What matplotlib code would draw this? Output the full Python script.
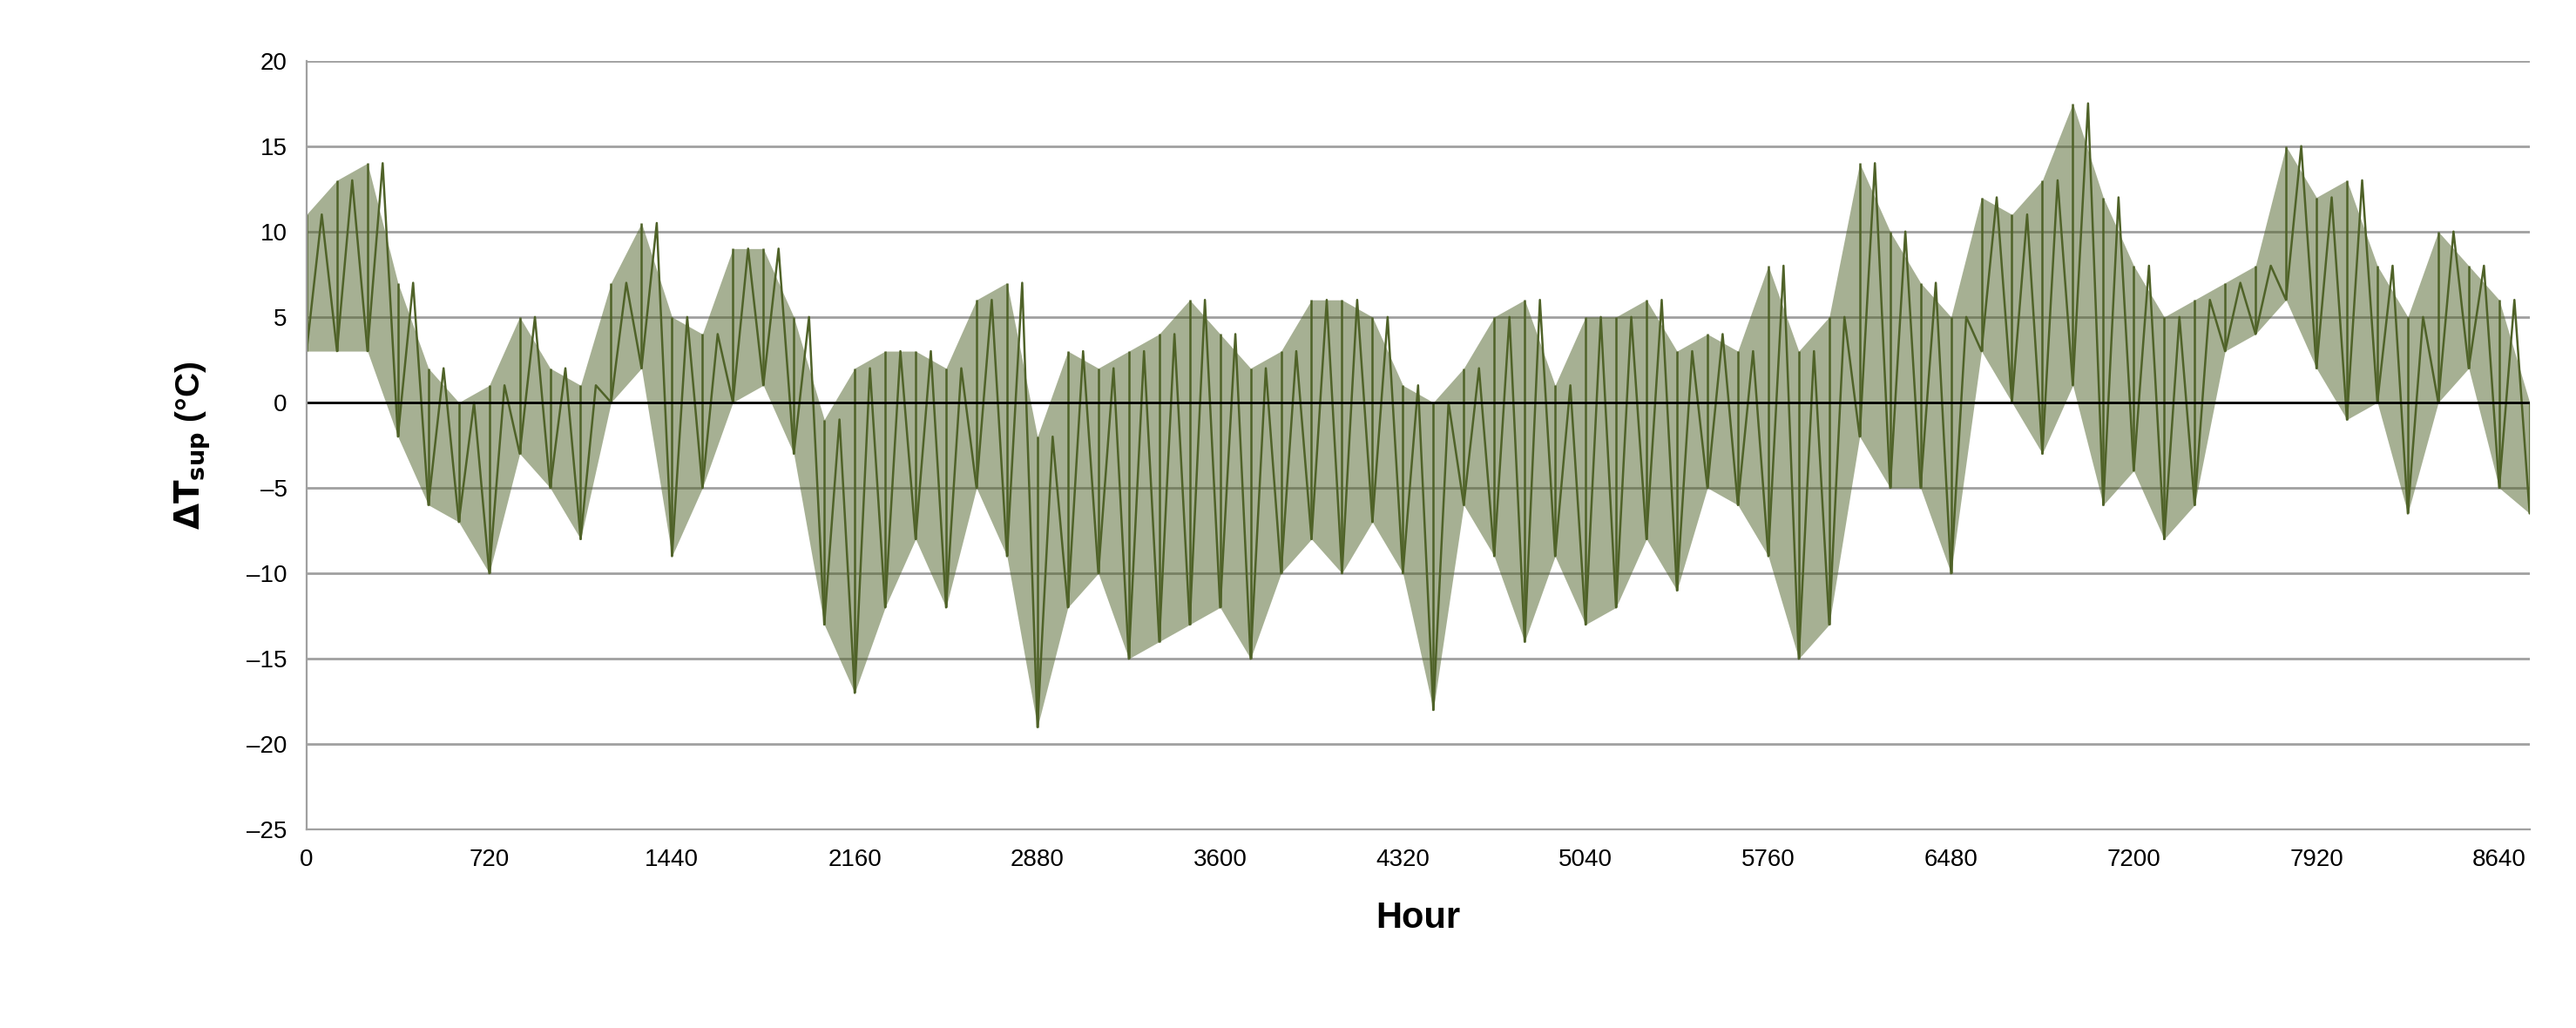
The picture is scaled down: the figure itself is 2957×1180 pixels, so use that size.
import numpy as np
import matplotlib.pyplot as plt

plt.rcParams['font.family'] = ['Liberation Sans', 'DejaVu Sans']

# readings every 120 h: lowest and highest value of the band in that window
hours = [0, 120, 240, 360, 480, 600, 720, 840, 960, 1080, 1200, 1320, 1440, 1560, 1680,
         1800, 1920, 2040, 2160, 2280, 2400, 2520, 2640, 2760, 2880, 3000, 3120, 3240,
         3360, 3480, 3600, 3720, 3840, 3960, 4080, 4200, 4320, 4440, 4560, 4680, 4800,
         4920, 5040, 5160, 5280, 5400, 5520, 5640, 5760, 5880, 6000, 6120, 6240, 6360,
         6480, 6600, 6720, 6840, 6960, 7080, 7200, 7320, 7440, 7560, 7680, 7800, 7920,
         8040, 8160, 8280, 8400, 8520, 8640, 8760]
highs = [11, 13, 14, 7, 2, 0, 1, 5, 2, 1, 7, 10.5, 5, 4, 9, 9, 5, -1, 2, 3, 3, 2, 6, 7,
         -2, 3, 2, 3, 4, 6, 4, 2, 3, 6, 6, 5, 1, 0, 2, 5, 6, 1, 5, 5, 6, 3, 4, 3, 8, 3, 5,
         14, 10, 7, 5, 12, 11, 13, 17.5, 12, 8, 5, 6, 7, 8, 15, 12, 13, 8, 5, 10, 8, 6, 0]
lows = [3, 3, 3, -2, -6, -7, -10, -3, -5, -8, 0, 2, -9, -5, 0, 1, -3, -13, -17, -12, -8,
        -12, -5, -9, -19, -12, -10, -15, -14, -13, -12, -15, -10, -8, -10, -7, -10, -18,
        -6, -9, -14, -9, -13, -12, -8, -11, -5, -6, -9, -15, -13, -2, -5, -5, -10, 3, 0,
        -3, 1, -6, -4, -8, -6, 3, 4, 6, 2, -1, 0, -6.5, 0, 2, -5, -6.5]

color = '#4f6228'
fig, ax = plt.subplots(figsize=(14.785, 5.9), dpi=200)
fig.subplots_adjust(left=0.119, right=0.982, top=0.941, bottom=0.193)

ax.fill_between(hours, lows, highs, color=color, alpha=0.5, linewidth=0)
zx = []
zy = []
for h, lo, hi in zip(hours, lows, highs):
    zx += [h, h + 60]
    zy += [lo, hi]
ax.plot(zx, zy, color=color, linewidth=0.9)
ax.vlines(hours, lows, highs, color=color, linewidth=0.9)

ax.axhline(0, color='black', linewidth=1)
ax.set_xlim(0, 8760)
ax.set_ylim(-25, 20)
ax.set_xticks(np.arange(0, 8641, 720))
ax.set_yticks(np.arange(-25, 21, 5))
ax.set_yticklabels([str(v).replace('-', '\u2013') for v in range(-25, 21, 5)])
ax.grid(axis='y', color='#a0a0a0', linewidth=1)
ax.set_axisbelow(True)
for s in ['top', 'right']:
    ax.spines[s].set_visible(False)
for s in ['left', 'bottom']:
    ax.spines[s].set_color('#a0a0a0')
ax.tick_params(labelsize=10, length=0, pad=8)
ax.set_xlabel('Hour', fontsize=15, fontweight='bold', labelpad=12)
ax.set_ylabel(r'$\mathbf{\Delta T_{sup}}$ (°C)', fontsize=14, fontweight='bold', labelpad=14)
fig.savefig('out.png')
